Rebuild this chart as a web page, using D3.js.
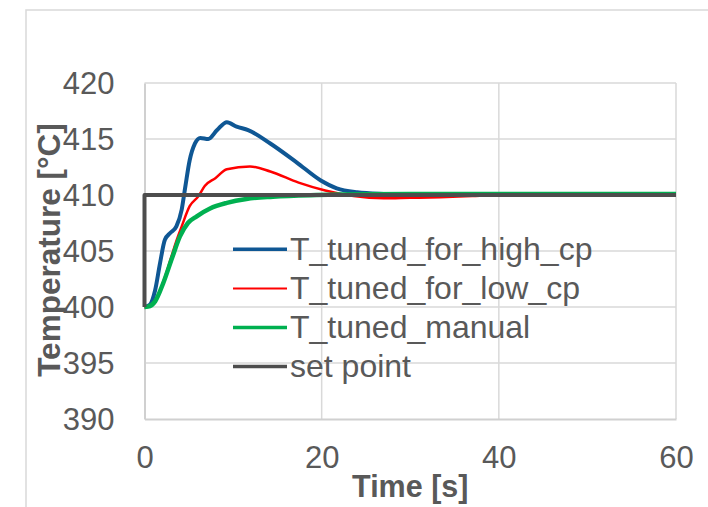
<!DOCTYPE html>
<html>
<head>
<meta charset="utf-8">
<script src="https://cdn.jsdelivr.net/npm/d3@7"></script>
<style>
  body { margin: 0; background: #fff; }
  text { font-family: "Liberation Sans", Arial, sans-serif; fill: #595959; }
</style>
</head>
<body>
<div id="chart_pane"></div>
<script>
// data
var t_high = [0, 0.6, 1.2, 1.75, 2.3, 2.9, 3.6, 4.2, 4.6, 5.1, 5.7, 6.3, 7.2, 8.2, 9.3, 10.4, 11.7, 14.2, 17.2, 19.9, 21.7, 24, 27, 30, 35, 40, 50, 60];
var T_high = [400, 400.2, 401.5, 403.9, 406.0, 406.6, 407.2, 408.7, 410.7, 413.1, 414.6, 415.1, 415.0, 415.8, 416.5, 416.1, 415.8, 414.6, 412.9, 411.3, 410.6, 410.25, 410.1, 410.05, 410.0, 410.0, 410.0, 410.0];

var t_low = [0, 0.5, 1.2, 2.1, 3.0, 3.6, 4.2, 5.1, 6.1, 6.8, 8, 9.3, 11.9, 14.2, 17.4, 20.4, 23.6, 27, 30, 33.4, 37, 40, 50, 60];
var T_low = [400, 400.05, 400.5, 402.2, 404.4, 405.9, 407.2, 409.0, 409.9, 410.8, 411.5, 412.3, 412.55, 412.1, 411.1, 410.4, 409.9, 409.7, 409.75, 409.8, 409.9, 409.97, 410.0, 410.0];

var t_manual = [0, 0.4, 1.2, 2.1, 3.1, 4.0, 4.9, 5.9, 7.4, 9.3, 11.5, 14.5, 19.4, 25, 30, 40, 50, 60];
var T_manual = [400, 400.03, 400.5, 402.1, 404.35, 406.3, 407.5, 408.1, 408.8, 409.3, 409.65, 409.85, 410.0, 410.07, 410.08, 410.08, 410.08, 410.08];

var t_set = [0, 0, 60];
var T_set = [400, 410, 410];

var series_names = ["T_tuned_for_high_cp", "T_tuned_for_low_cp", "T_tuned_manual", "set point"];
var series_colors = ["#0f5794", "#ff0000", "#00b050", "#4d4d4d"];

var x_ticks = [0, 20, 40, 60];
var y_ticks = [390, 395, 400, 405, 410, 415, 420];

function zipSeries(ts, vs) {
    return ts.map(function(t, i) { return { t: t, v: vs[i] }; });
}

var series = [
    { name: series_names[0], color: series_colors[0], width: 4, curve: d3.curveMonotoneX, data: zipSeries(t_high, T_high) },
    { name: series_names[1], color: series_colors[1], width: 2.5, curve: d3.curveMonotoneX, data: zipSeries(t_low, T_low) },
    { name: series_names[2], color: series_colors[2], width: 4.5, curve: d3.curveMonotoneX, data: zipSeries(t_manual, T_manual) },
    { name: series_names[3], color: series_colors[3], width: 4, curve: d3.curveLinear, data: zipSeries(t_set, T_set) }
];

var W = 708, H = 507;

var svg = d3.select("#chart_pane")
    .append("svg")
    .attr("width", W)
    .attr("height", H);

// outer chart frame, runs off the right and bottom edge
svg.append("rect")
    .attr("x", 26)
    .attr("y", 10)
    .attr("width", 800)
    .attr("height", 600)
    .style("fill", "none")
    .style("stroke", "#d9d9d9")
    .style("stroke-width", 1.5);

// scales
var xScale = d3.scaleLinear().domain([0, 60]).range([144.5, 676]);
var yScale = d3.scaleLinear().domain([390, 420]).range([419, 83]);

// gridlines
svg.append("g")
    .selectAll("line")
    .data(y_ticks.filter(function(d) { return d > 390; }))
    .enter().append("line")
    .attr("x1", xScale(0))
    .attr("x2", xScale(60))
    .attr("y1", function(d) { return yScale(d); })
    .attr("y2", function(d) { return yScale(d); })
    .style("stroke", "#d9d9d9")
    .style("stroke-width", 1.5);

svg.append("g")
    .selectAll("line")
    .data(x_ticks.filter(function(d) { return d > 0; }))
    .enter().append("line")
    .attr("x1", function(d) { return xScale(d); })
    .attr("x2", function(d) { return xScale(d); })
    .attr("y1", yScale(390))
    .attr("y2", yScale(420))
    .style("stroke", "#d9d9d9")
    .style("stroke-width", 1.5);

// axes: lines only, labels drawn below
var xAxis = d3.axisBottom(xScale).tickValues(x_ticks).tickSize(0).tickFormat(d3.format("d"));
var yAxis = d3.axisLeft(yScale).tickValues(y_ticks).tickSize(0).tickFormat(d3.format("d"));

var gx = svg.append("g")
    .attr("transform", "translate(0," + yScale(390) + ")")
    .call(xAxis);
gx.select(".domain").style("stroke", "#d0d0d0").style("stroke-width", 2);
gx.selectAll(".tick text")
    .attr("y", 0)
    .attr("dy", "49px")
    .style("font-size", "31px")
    .style("fill", "#595959");

var gy = svg.append("g")
    .attr("transform", "translate(" + xScale(0) + ",0)")
    .call(yAxis);
gy.select(".domain").style("stroke", "#d0d0d0").style("stroke-width", 2);
gy.selectAll(".tick text")
    .attr("x", -30)
    .attr("dy", "0.34em")
    .style("font-size", "31px")
    .style("fill", "#595959");

// axis titles
svg.append("text")
    .attr("x", (xScale(0) + xScale(60)) / 2)
    .attr("y", 497)
    .style("text-anchor", "middle")
    .style("font-size", "30.5px")
    .style("font-weight", "bold")
    .text("Time [s]");

svg.append("text")
    .attr("transform", "translate(60,250) rotate(-90)")
    .style("text-anchor", "middle")
    .style("font-size", "31.5px")
    .style("font-weight", "bold")
    .text("Temperature [°C]");

// the lines
series.forEach(function(s) {
    var line = d3.line()
        .x(function(d) { return xScale(d.t); })
        .y(function(d) { return yScale(d.v); })
        .curve(s.curve);

    svg.append("path")
        .datum(s.data)
        .attr("d", line)
        .style("fill", "none")
        .style("stroke", s.color)
        .style("stroke-width", s.width)
        .style("stroke-linejoin", "round");
});

// legend
var legend = svg.append("g")
    .selectAll("g")
    .data(series)
    .enter().append("g")
    .attr("transform", function(d, i) { return "translate(233," + (249.3 + i * 39.1) + ")"; });

legend.append("line")
    .attr("x1", 0)
    .attr("x2", 54)
    .style("stroke", function(d) { return d.color; })
    .style("stroke-width", function(d, i) { return i == 1 ? 2 : 3.5; });

legend.append("text")
    .attr("x", 57)
    .attr("y", 10.7)
    .style("font-size", "32px")
    .text(function(d) { return d.name; });
</script>
</body>
</html>
